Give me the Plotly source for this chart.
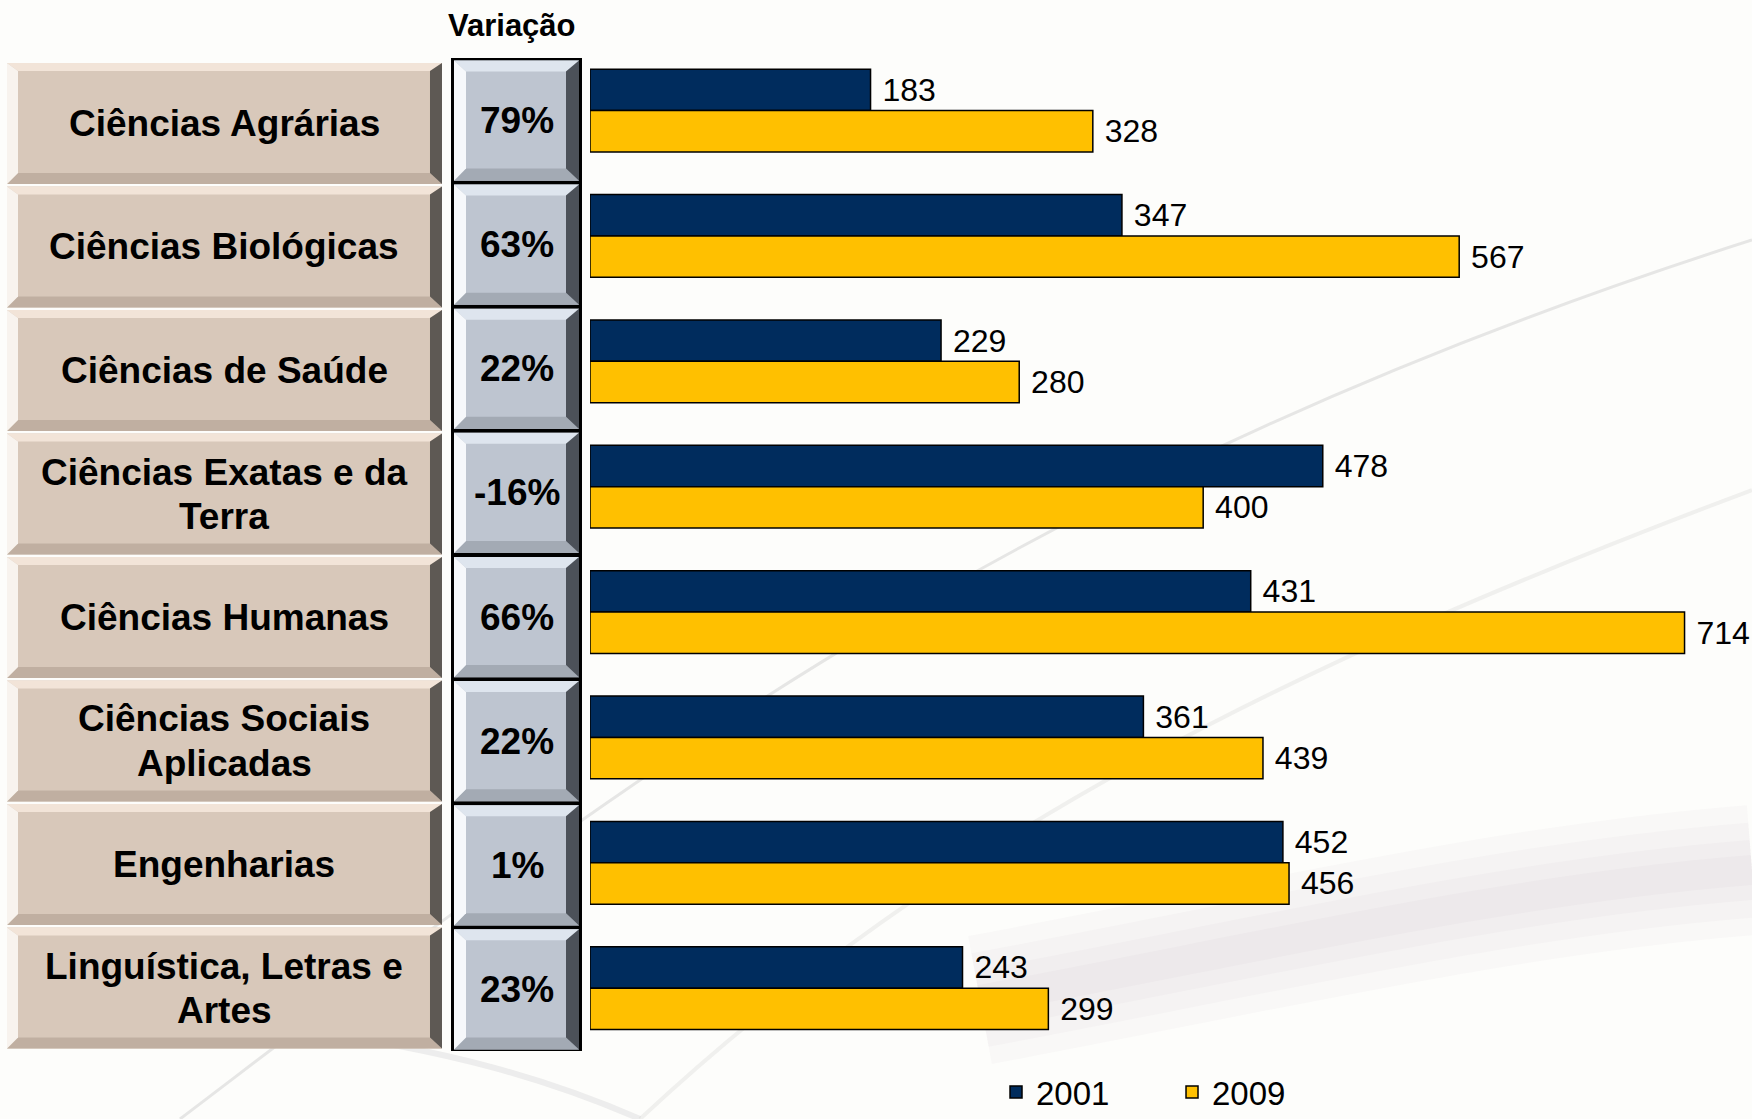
import plotly.graph_objects as go

# ---------------- data ----------------
categories = ["Ciências Agrárias", "Ciências Biológicas", "Ciências de Saúde",
              "Ciências Exatas e da Terra", "Ciências Humanas",
              "Ciências Sociais Aplicadas", "Engenharias",
              "Linguística, Letras e Artes"]
category_labels = ["Ciências Agrárias", "Ciências Biológicas", "Ciências de Saúde",
                   "Ciências Exatas e da<br>Terra", "Ciências Humanas",
                   "Ciências Sociais<br>Aplicadas", "Engenharias",
                   "Linguística, Letras e<br>Artes"]
values_2001 = [183, 347, 229, 478, 431, 361, 452, 243]
values_2009 = [328, 567, 280, 400, 714, 439, 456, 299]
variacao = ["79%", "63%", "22%", "-16%", "66%", "22%", "1%", "23%"]
series_names = ["2001", "2009"]
header = "Variação"

# ---------------- style ----------------
W, H = 1752, 1119
NAVY = "#002C5D"
YELLOW = "#FFC000"
BOLD = "Liberation Sans, Arial, sans-serif"
NARROW = "Liberation Sans Narrow, Arial Narrow, Liberation Sans, sans-serif"


def P(x, y):
    return f"{x / W:.5f},{1 - y / H:.5f}"


def poly(pts, color, layer="above"):
    d = "M " + " L ".join(P(x, y) for x, y in pts) + " Z"
    return dict(type="path", path=d, xref="paper", yref="paper",
                fillcolor=color, line=dict(width=0), layer=layer)


def bevel_box(x0, y0, x1, y1, main, top, left, right, bottom, t, l, r, b):
    return [
        poly([(x0, y0), (x1, y0), (x1, y1), (x0, y1)], main),
        poly([(x0, y0), (x1, y0), (x1 - r, y0 + t), (x0 + l, y0 + t)], top),
        poly([(x0, y1), (x1, y1), (x1 - r, y1 - b), (x0 + l, y1 - b)], bottom),
        poly([(x0, y0), (x0 + l, y0 + t), (x0 + l, y1 - b), (x0, y1)], left),
        poly([(x1, y0), (x1 - r, y0 + t), (x1 - r, y1 - b), (x1, y1)], right),
    ]


def curve(d, color, width):
    return dict(type="path", xref="paper", yref="paper", layer="below",
                path=d, line=dict(color=color, width=width))


fig = go.Figure()
colors = [NAVY, YELLOW]
for name, vals, col in zip(series_names, [values_2001, values_2009], colors):
    fig.add_trace(go.Bar(
        name=name, y=categories, x=vals, orientation="h",
        marker=dict(color=col, line=dict(color="black", width=1.5)),
        text=vals, texttemplate=" %{x}", textposition="outside",
        textfont=dict(family=NARROW, size=32, color="black"),
        constraintext="none", cliponaxis=False, hoverinfo="skip",
    ))

shapes = []
# faint background swooshes
band = f"M {P(980, 1000)} C {P(1250, 950)} {P(1500, 890)} {P(1752, 870)}"
for w in (130, 95, 60, 30):
    shapes.append(curve(band, "rgba(140,125,140,0.035)", w))
shapes.append(curve(f"M {P(180, 1119)} C {P(600, 800)} {P(1000, 480)} {P(1752, 240)}",
                    "rgba(180,180,180,0.30)", 3))
shapes.append(curve(f"M {P(640, 1119)} C {P(950, 830)} {P(1300, 660)} {P(1752, 490)}",
                    "rgba(185,185,185,0.18)", 4))
shapes.append(curve(f"M {P(300, 1030)} C {P(450, 1050)} {P(550, 1080)} {P(640, 1119)}",
                    "rgba(190,190,195,0.25)", 6))

annotations = []
# category boxes
top0, pitch, bh = 63.0, 123.5, 121.0
for i, lab in enumerate(category_labels):
    y0 = top0 + i * pitch
    y1 = y0 + bh
    shapes += bevel_box(7, y0, 442, y1, "#D8C8BA", "#F2E4D8", "#F8F3EE",
                        "#5E5954", "#C0AFA1", 8, 11, 12, 11)
    lines = lab.split("<br>")
    yc = y0 + bh / 2
    lh = 44
    for j, ln in enumerate(lines):
        yy = yc + (j - (len(lines) - 1) / 2) * lh
        annotations.append(dict(text=f"<b>{ln}</b>", x=224 / W, y=1 - yy / H,
                                xref="paper", yref="paper", showarrow=False,
                                xanchor="center", yanchor="middle",
                                font=dict(family=BOLD, size=37, color="black")))

# variação column
vx0, vx1, vy0, vy1 = 451, 582, 58, 1051
shapes.append(poly([(vx0, vy0), (vx1, vy0), (vx1, vy1), (vx0, vy1)], "black"))
vp = (vy1 - vy0) / len(variacao)
for i, v in enumerate(variacao):
    y0 = vy0 + i * vp + 2.5
    y1 = vy0 + (i + 1) * vp - 1.5
    shapes += bevel_box(vx0 + 3, y0, vx1 - 3, y1, "#BEC5D0", "#DEE5EE", "#F6F8FB",
                        "#4C5159", "#A3AAB4", 11, 12, 13, 12)
    annotations.append(dict(text=f"<b>{v}</b>", x=517 / W, y=1 - (y0 + y1) / 2 / H,
                            xref="paper", yref="paper", showarrow=False,
                            xanchor="center", yanchor="middle",
                            font=dict(family=BOLD, size=37, color="black")))

annotations.append(dict(text=f"<b>{header}</b>", x=512 / W, y=1 - 26 / H,
                        xref="paper", yref="paper", showarrow=False,
                        xanchor="center", yanchor="middle",
                        font=dict(family=BOLD, size=31, color="black")))

fig.update_layout(
    width=W, height=H,
    margin=dict(l=0, r=0, t=0, b=0, autoexpand=False),
    paper_bgcolor="#FDFDFB", plot_bgcolor="rgba(0,0,0,0)",
    barmode="group", bargap=0.34, bargroupgap=0,
    xaxis=dict(visible=False, range=[0, 758], domain=[590 / W, 1]),
    yaxis=dict(visible=False, type="category", categoryorder="array",
               categoryarray=categories, range=[8.0437, -0.8821]),
    showlegend=True,
    legend=dict(orientation="h", x=0.5685, y=1 - 1092 / H, xanchor="left",
                yanchor="middle", bgcolor="rgba(0,0,0,0)",
                font=dict(family=NARROW, size=33, color="black"),
                entrywidth=131, entrywidthmode="pixels", traceorder="normal"),
    shapes=shapes, annotations=annotations,
)

post = "document.body.style.margin='0';document.body.style.overflow='hidden';"
fig.write_html("out.html", config={"displayModeBar": False}, post_script=post)
